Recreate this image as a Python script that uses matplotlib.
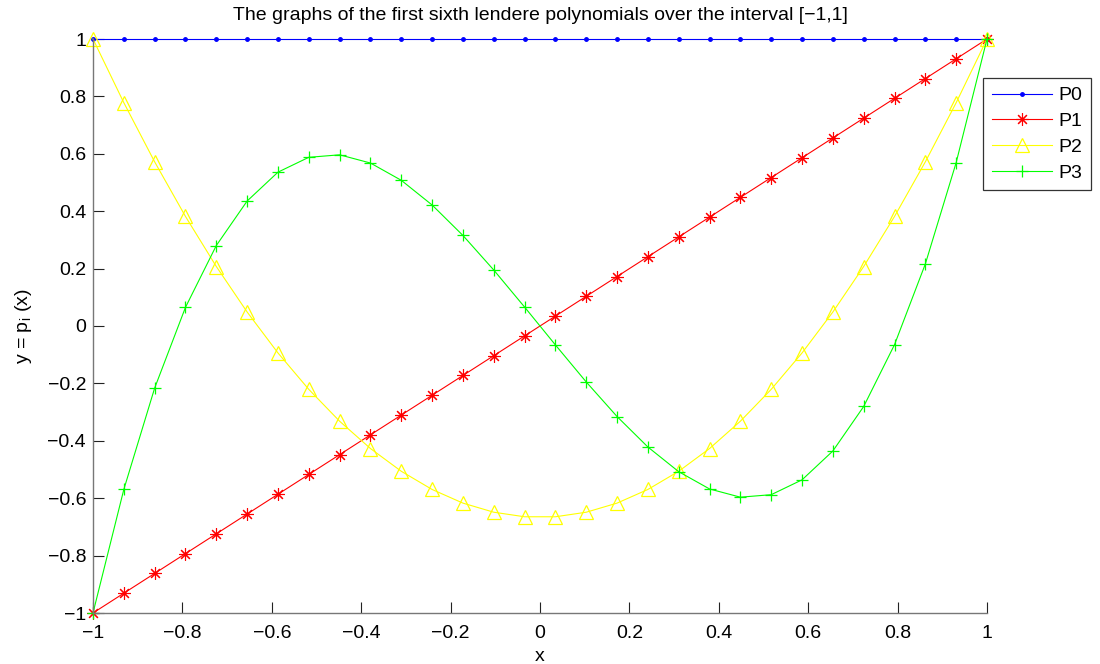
import matplotlib
matplotlib.use("Agg")
import matplotlib.pyplot as plt

x_neg = [-1.000000, -0.931034, -0.862069, -0.793103, -0.724138, -0.655172,
         -0.586207, -0.517241, -0.448276, -0.379310, -0.310345, -0.241379,
         -0.172414, -0.103448, -0.034483]
x = x_neg + [-v for v in reversed(x_neg)]

p0 = [1.0] * 30
p1 = list(x)
p2_half = [1.000000, 0.778042, 0.571938, 0.381688, 0.207293, 0.048750,
           -0.093935, -0.220768, -0.331748, -0.426873, -0.506143, -0.569560,
           -0.617122, -0.648830, -0.664685]
p2 = p2_half + list(reversed(p2_half))
p3_half = [-1.000000, -0.569398, -0.216286, 0.065070, 0.280413, 0.435485,
           0.536020, 0.587764, 0.596458, 0.567838, 0.507647, 0.421625,
           0.315511, 0.195046, 0.065973]
p3 = p3_half + [-v for v in reversed(p3_half)]

xticks = [-1, -0.8, -0.6, -0.4, -0.2, 0, 0.2, 0.4, 0.6, 0.8, 1]
yticks = [-1, -0.8, -0.6, -0.4, -0.2, 0, 0.2, 0.4, 0.6, 0.8, 1]

def fmt(v):
    if v == 0:
        return "0"
    if v == int(v):
        s = str(int(abs(v)))
    else:
        s = ("%.1f" % abs(v))
    return ("\u2212" if v < 0 else "") + s

FS = 14
plt.rcParams['font.family'] = ['Liberation Sans', 'DejaVu Sans']
plt.rcParams['font.size'] = FS

fig = plt.figure(figsize=(11, 6.64), dpi=100)
ax = fig.add_axes([93/1100, 1 - 613/664, (987-93)/1100, (613-39)/664])

ax.plot(x, p0, color='#0000ff', lw=0.8, marker='.', ms=5, label='P0')
ax.plot(x, p1, color='#ff0000', lw=0.8, marker=(8, 2, 0), ms=9, mew=0.8, label='P1')
ax.plot(x, p2, color='#ffff00', lw=0.8, marker='^', ms=10, mfc='none', mew=0.9, label='P2')
ax.plot(x, p3, color='#00ff00', lw=0.8, marker='+', ms=9, mew=0.9, label='P3')

ax.set_xlim(-1, 1)
ax.set_ylim(-1, 1)
ax.set_xticks(xticks)
ax.set_xticklabels([fmt(v) for v in xticks])
ax.set_yticks(yticks)
ax.set_yticklabels([fmt(v) for v in yticks])
for s in ['top', 'right']:
    ax.spines[s].set_visible(False)
for s in ['left', 'bottom']:
    ax.spines[s].set_color('#777777')
    ax.spines[s].set_linewidth(1.0)
ax.tick_params(direction='in', length=8, width=0.8, color='#222222', labelsize=FS)
ax.tick_params(axis='x', pad=9)
ax.tick_params(axis='y', pad=5)
for ln in ax.lines:
    ln.set_clip_on(False)

ax.set_xlabel('x', labelpad=4)
ax.set_ylabel('y = p$_\\mathregular{i}$ (x)', labelpad=10)
ax.set_title('The graphs of the first sixth lendere polynomials over the interval [\u22121,1]',
             fontsize=FS, pad=14)

leg = ax.legend(loc='upper left', bbox_to_anchor=(983/1100, 1 - 78/664),
                bbox_transform=fig.transFigure, frameon=True, fancybox=False,
                edgecolor='black', fontsize=FS, handlelength=3.1,
                borderpad=0.45, labelspacing=0.42, handletextpad=0.35, borderaxespad=0)
leg.get_frame().set_linewidth(0.9)

fig.savefig('out.png', dpi=100)
